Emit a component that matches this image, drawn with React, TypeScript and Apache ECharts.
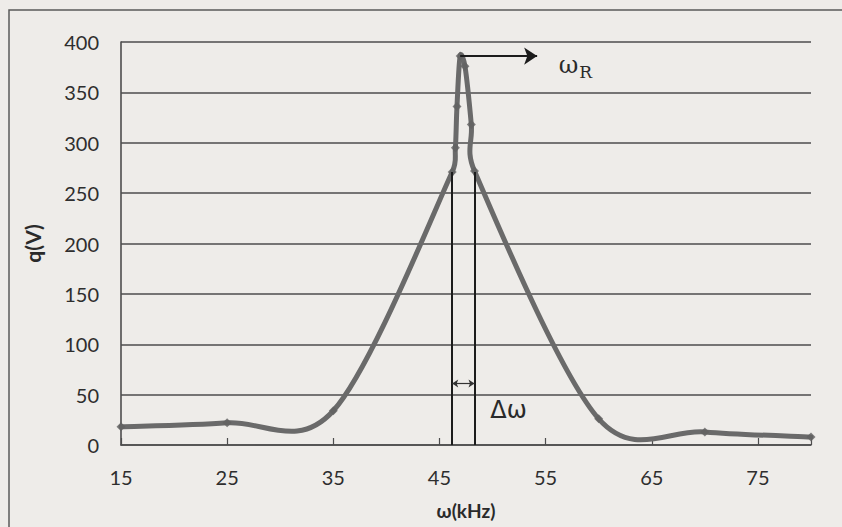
import React, { useEffect, useRef } from "react";
import * as echarts from "echarts";

// Resonance curve data
const frequencyKHz = [15, 25, 35, 46.2, 46.5, 46.65, 46.95, 47.4, 48.0, 48.3, 60, 70, 80];
const chargeV = [18, 22, 34, 271, 295, 336, 386, 376, 318, 272, 26, 13, 8];

// Annotations
const bandLow = 46.2;
const bandHigh = 48.3;
const bandLevel = 271;
const bandArrowLevel = 61;
const resonanceFreq = 46.95;
const resonanceQ = 386;
const resonanceArrowEnd = 54.2;
const resonanceLabelPos = [57.8, 377];
const deltaLabelPos = [51.5, 35];

const X_MIN = 15;
const X_MAX = 80;
const X_STEP = 10;
const Y_MIN = 0;
const Y_MAX = 400;
const Y_STEP = 50;

const LINE_COLOR = "#6a6a6a";
const GRID_COLOR = "#4d4d4d";
const TENSION = 1 / 6; // Catmull-Rom tangent factor
const MAX_HANDLE = 0.5; // control handle capped at this share of the segment length

export default function App() {
  const ref = useRef<HTMLDivElement>(null);

  useEffect(() => {
    const chart = echarts.init(ref.current!, null, { renderer: "svg" });
    const sx = (x: number) => x - X_MIN; // axis counted from 0 so ticks fall on 15, 25, ...
    const points = frequencyKHz.map((f, i) => [sx(f), chargeV[i]]);
    const n = points.length;
    const dist = (a: number[], b: number[]) => Math.hypot(a[0] - b[0], a[1] - b[1]);

    const handle = (from: number[], to: number[], segLen: number) => {
      const hx = (to[0] - from[0]) * TENSION;
      const hy = (to[1] - from[1]) * TENSION;
      const len = Math.hypot(hx, hy);
      const cap = segLen * MAX_HANDLE;
      const s = len > cap && len > 0 ? cap / len : 1;
      return [hx * s, hy * s];
    };

    // Smoothed segment between point i and i+1
    const renderSegment = (params: any, api: any) => {
      const i = params.dataIndex;
      if (i >= n - 1) return { type: "group", children: [] };
      const px = points.map((p) => api.coord(p));
      const p0 = px[Math.max(i - 1, 0)];
      const p1 = px[i];
      const p2 = px[i + 1];
      const p3 = px[Math.min(i + 2, n - 1)];
      const d12 = dist(p1, p2);
      const h1 = handle(p0, p2, d12);
      const h2 = handle(p1, p3, d12);
      return {
        type: "bezierCurve",
        shape: {
          x1: p1[0],
          y1: p1[1],
          x2: p2[0],
          y2: p2[1],
          cpx1: p1[0] + h1[0],
          cpy1: p1[1] + h1[1],
          cpx2: p2[0] - h2[0],
          cpy2: p2[1] - h2[1],
        },
        style: { stroke: LINE_COLOR, lineWidth: 5, fill: "none", lineCap: "round" },
      };
    };

    chart.setOption({
      animation: false,
      backgroundColor: "#eeece9",
      grid: { left: 121, right: 31, top: 42, bottom: 82, containLabel: false },
      graphic: [
        {
          type: "rect",
          shape: { x: 9, y: 10, width: 900, height: 600 },
          style: { fill: "none", stroke: "#5a5a5a", lineWidth: 1.5 },
          silent: true,
        },
      ],
      xAxis: {
        type: "value",
        min: 0,
        max: X_MAX - X_MIN,
        interval: X_STEP,
        name: "ω(kHz)",
        nameLocation: "middle",
        nameGap: 56,
        nameTextStyle: { fontFamily: "Lato", fontWeight: "bold", fontSize: 19, color: "#2a2a2a" },
        axisLine: { show: true, lineStyle: { color: GRID_COLOR, width: 1.6 } },
        axisTick: { show: true, inside: true, length: 7, lineStyle: { color: GRID_COLOR, width: 1.2 } },
        axisLabel: {
          margin: 22,
          fontFamily: "Lato",
          fontSize: 20,
          color: "#2e2e2e",
          formatter: (v: number) => (v + X_MIN >= X_MAX ? "" : String(v + X_MIN)),
        },
        splitLine: { show: false },
      },
      yAxis: {
        type: "value",
        min: Y_MIN,
        max: Y_MAX,
        interval: Y_STEP,
        name: "q(V)",
        nameLocation: "middle",
        nameGap: 78,
        nameRotate: 90,
        nameTextStyle: { fontFamily: "Lato", fontWeight: "bold", fontSize: 21, color: "#2a2a2a" },
        axisLine: { show: true, lineStyle: { color: GRID_COLOR, width: 1.6 } },
        axisTick: { show: false },
        axisLabel: { margin: 22, fontFamily: "Lato", fontSize: 20, color: "#2e2e2e" },
        splitLine: { show: true, lineStyle: { color: GRID_COLOR, width: 1.6 } },
      },
      series: [
        {
          type: "custom",
          data: points,
          encode: { x: 0, y: 1 },
          renderItem: renderSegment,
          clip: false,
          silent: true,
          z: 3,
        },
        {
          type: "scatter",
          data: points,
          symbol: "diamond",
          symbolSize: 9,
          itemStyle: { color: "#626262" },
          silent: true,
          z: 4,
          markLine: {
            silent: true,
            animation: false,
            label: { show: false },
            lineStyle: { color: "#1c1c1c", width: 2, type: "solid" },
            data: [
              [
                { coord: [sx(bandLow), bandLevel], symbol: "none" },
                { coord: [sx(bandLow), 0], symbol: "none" },
              ],
              [
                { coord: [sx(bandHigh), bandLevel], symbol: "none" },
                { coord: [sx(bandHigh), 0], symbol: "none" },
              ],
              [
                { coord: [sx(bandLow), bandArrowLevel], symbol: "arrow", symbolSize: 6, lineStyle: { width: 1.2, color: "#333" } },
                { coord: [sx(bandHigh), bandArrowLevel], symbol: "arrow", symbolSize: 6 },
              ],
              [
                { coord: [sx(resonanceFreq), resonanceQ], symbol: "none", lineStyle: { width: 1.8, color: "#1c1c1c" } },
                { coord: [sx(resonanceArrowEnd), resonanceQ], symbol: "arrow", symbolSize: 13 },
              ],
            ],
          },
          markPoint: {
            silent: true,
            symbol: "circle",
            symbolSize: 1,
            itemStyle: { color: "rgba(0,0,0,0)" },
            data: [
              {
                coord: [sx(resonanceLabelPos[0]), resonanceLabelPos[1]],
                label: {
                  show: true,
                  position: "inside",
                  formatter: "{w|ω}{r|R}",
                  rich: {
                    w: { fontFamily: "DejaVu Serif", fontSize: 24, color: "#2a2a2a" },
                    r: { fontFamily: "DejaVu Serif", fontSize: 17, color: "#2a2a2a", padding: [13, 0, 0, 1] },
                  },
                },
              },
              {
                coord: [sx(deltaLabelPos[0]), deltaLabelPos[1]],
                label: {
                  show: true,
                  position: "inside",
                  formatter: "Δω",
                  fontFamily: "DejaVu Sans",
                  fontSize: 24,
                  color: "#2a2a2a",
                },
              },
            ],
          },
        },
      ],
    });

    return () => chart.dispose();
  }, []);

  return (
    <div
      ref={ref}
      style={{ position: "fixed", left: 0, top: 0, width: 842, height: 527 }}
    />
  );
}
